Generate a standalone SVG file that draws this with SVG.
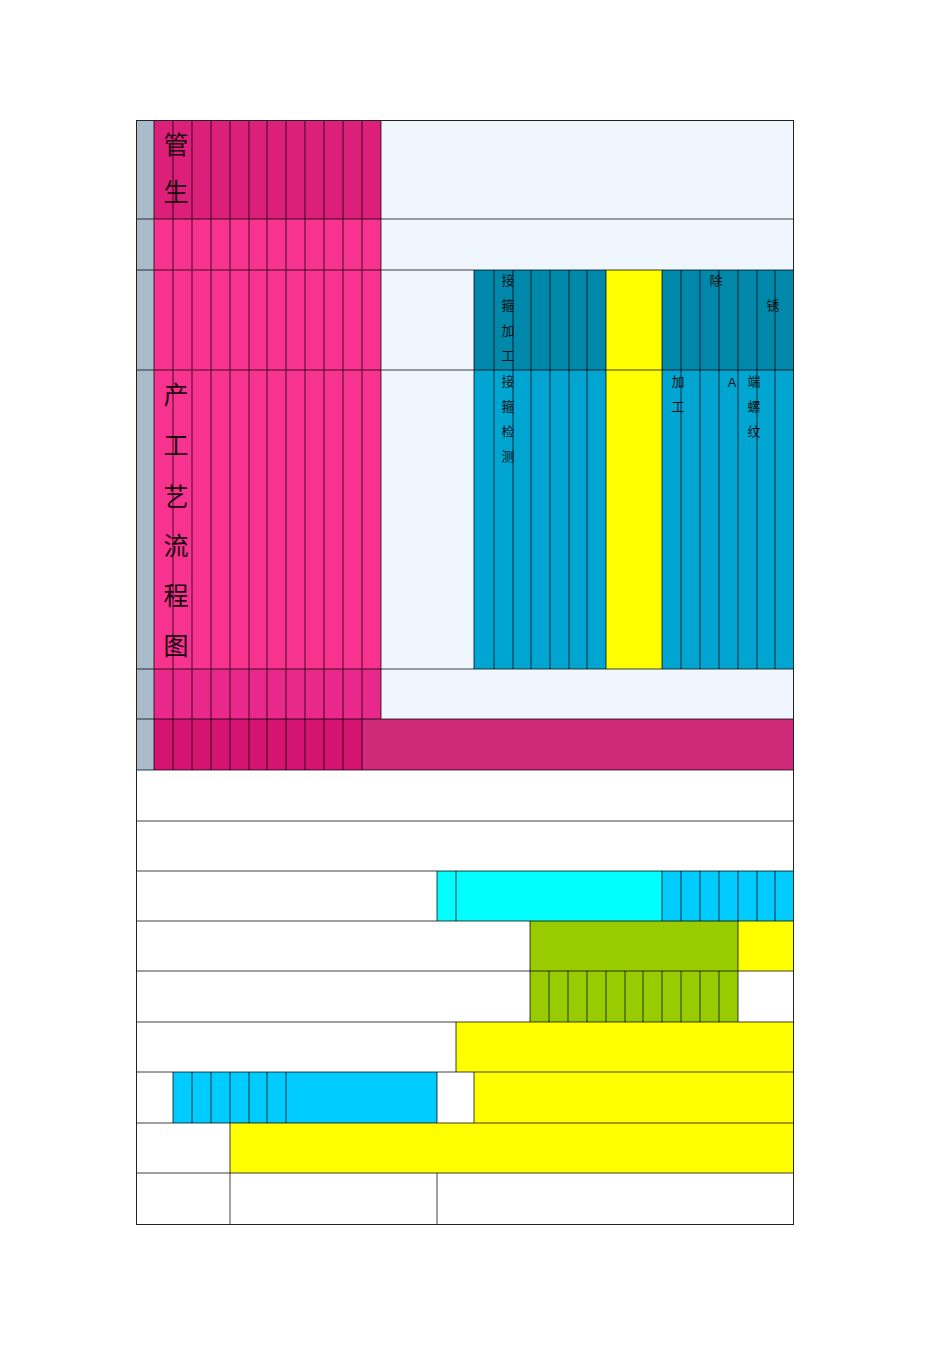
<svg xmlns="http://www.w3.org/2000/svg" width="950" height="1345" viewBox="0 0 950 1345">
<style>
.big{font-family:"Noto Sans CJK SC","Noto Sans",sans-serif;font-size:25px;fill:#1a0510;text-anchor:middle}
.sm{font-family:"Noto Sans CJK SC","Noto Sans",sans-serif;font-size:13px;fill:#111;text-anchor:middle}
.ln{stroke:#000;stroke-opacity:0.75;stroke-width:1;fill:none}
.bd{stroke:#222;stroke-width:1;fill:none}
</style>
<rect width="950" height="1345" fill="#fff"/>
<g id="left-band">
<rect x="136" y="120" width="18" height="650" fill="#aabbcc"/>
<rect x="154" y="120" width="227" height="99" fill="#dc1f78"/>
<rect x="154" y="219" width="227" height="450" fill="#f8328f"/>
<rect x="154" y="669" width="227" height="50" fill="#e8288a"/>
<rect x="154" y="719" width="208" height="51" fill="#d41470"/>
<rect x="362" y="719" width="431" height="51" fill="#cf2a7a"/>
<text class="big" x="176" y="154">管</text>
<text class="big" x="176" y="201">生</text>
<text class="big" x="176" y="404">产</text>
<text class="big" x="176" y="455">工</text>
<text class="big" x="176" y="506">艺</text>
<text class="big" x="176" y="555">流</text>
<text class="big" x="176" y="605">程</text>
<text class="big" x="176" y="655">图</text>
</g>
<g id="light-area">
<rect x="381" y="120" width="412" height="150" fill="#f0f6fe"/>
<rect x="381" y="270" width="93" height="399" fill="#f0f6fe"/>
<rect x="381" y="669" width="412" height="50" fill="#f0f6fe"/>
</g>
<g id="blue-block">
<rect x="474" y="270" width="132" height="100" fill="#0088aa"/>
<rect x="662" y="270" width="131" height="100" fill="#0088aa"/>
<rect x="474" y="370" width="132" height="299" fill="#00a5d2"/>
<rect x="662" y="370" width="131" height="299" fill="#00a5d2"/>
<rect x="606" y="270" width="56" height="399" fill="#ffff00"/>
<text class="sm" x="508" y="285">接</text>
<text class="sm" x="508" y="310">箍</text>
<text class="sm" x="508" y="335">加</text>
<text class="sm" x="508" y="360">工</text>
<text class="sm" x="716" y="285">除</text>
<text class="sm" x="773" y="310">锈</text>
<text class="sm" x="508" y="386">接</text>
<text class="sm" x="508" y="411">箍</text>
<text class="sm" x="508" y="436">检</text>
<text class="sm" x="508" y="461">测</text>
<text class="sm" x="678" y="386">加</text>
<text class="sm" x="678" y="411">工</text>
<text class="sm" x="732" y="387" style="font-family:'Liberation Sans',sans-serif">A</text>
<text class="sm" x="754" y="386">端</text>
<text class="sm" x="754" y="411">螺</text>
<text class="sm" x="754" y="436">纹</text>
</g>
<g id="lower-rows">
<rect x="437" y="871" width="225" height="50" fill="#00ffff"/>
<rect x="662" y="871" width="131" height="50" fill="#00ccff"/>
<rect x="530" y="921" width="208" height="50" fill="#99cc00"/>
<rect x="738" y="921" width="55" height="50" fill="#ffff00"/>
<rect x="530" y="971" width="208" height="51" fill="#99cc00"/>
<rect x="456" y="1022" width="337" height="50" fill="#ffff00"/>
<rect x="173" y="1072" width="264" height="51" fill="#00ccff"/>
<rect x="474" y="1072" width="319" height="51" fill="#ffff00"/>
<rect x="230" y="1123" width="563" height="50" fill="#ffff00"/>
</g>
<g id="grid-lines" class="ln">
<path d="M154 120V770M173 120V770M192 120V770M211 120V770M230 120V770M249 120V770M267 120V770M286 120V770M305 120V770M324 120V770M343 120V770M362 120V770M381 120V719"/>
<path d="M474 270V669M494 270V669M513 270V669M531 270V669M550 270V669M569 270V669M587 270V669M606 270V669M662 270V669M681 270V669M700 270V669M719 270V669M738 270V669M757 270V669M775 270V669"/>
<path d="M136 219H793M136 270H793M136 370H793M136 669H793M136 719H793M136 770H793M136 821H793M136 871H793M136 921H793M136 971H793M136 1022H793M136 1072H793M136 1123H793M136 1173H793"/>
<path d="M437 871V921M456 871V921M662 871V921M681 871V921M700 871V921M719 871V921M738 871V921M757 871V921M775 871V921"/>
<path d="M530 921V1022M738 921V1022M549 971V1022M568 971V1022M587 971V1022M606 971V1022M625 971V1022M643 971V1022M662 971V1022M681 971V1022M700 971V1022M719 971V1022"/>
<path d="M456 1022V1072"/>
<path d="M173 1072V1123M192 1072V1123M211 1072V1123M230 1072V1123M249 1072V1123M267 1072V1123M286 1072V1123M437 1072V1123M474 1072V1123"/>
<path d="M230 1123V1224M437 1173V1224"/>
</g>
<g id="border">
<rect class="bd" x="136.5" y="120.5" width="657" height="1104"/>
</g>
</svg>
